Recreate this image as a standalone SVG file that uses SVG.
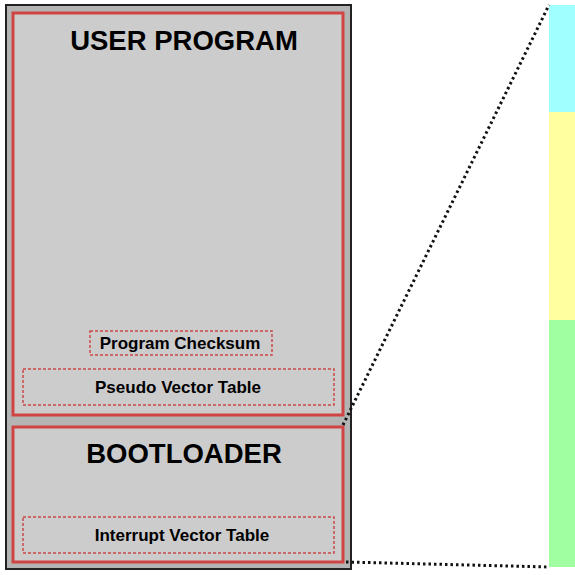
<svg xmlns="http://www.w3.org/2000/svg" width="575" height="575" viewBox="0 0 575 575">
<style>
.region{fill:#cccccc;stroke:#d04444;stroke-width:3}
.sub{fill:none;stroke:#c84848;stroke-width:1.5;stroke-dasharray:3,2}
.title{font-family:"Liberation Sans",Arial,sans-serif;font-weight:bold;font-size:27.5px;fill:#000;text-anchor:middle}
.lbl{font-family:"Liberation Sans",Arial,sans-serif;font-weight:bold;font-size:17px;fill:#000;text-anchor:middle}
.dots{fill:none;stroke:#111;stroke-width:3;stroke-dasharray:2.5,3}
</style>
<rect width="575" height="575" fill="#ffffff"/>
<g id="memory-bar">
<rect x="549" y="5" width="26" height="107" fill="#a0ffff"/>
<rect x="549" y="112" width="26" height="208" fill="#ffffa0"/>
<rect x="549" y="320" width="26" height="247" fill="#a0ffa0"/>
</g>
<g id="flash">
<rect x="6" y="5" width="345" height="564" fill="#b4b4b4" stroke="#222" stroke-width="2"/>
</g>
<g id="user-program">
<rect class="region" x="13" y="13" width="330" height="402"/>
<text class="title" x="184" y="50">USER PROGRAM</text>
</g>
<g id="program-checksum">
<rect class="sub" x="90" y="331" width="182" height="24"/>
<text class="lbl" x="180" y="349">Program Checksum</text>
</g>
<g id="pseudo-vector-table">
<rect class="sub" x="23" y="369" width="311" height="36"/>
<text class="lbl" x="178" y="393">Pseudo Vector Table</text>
</g>
<g id="bootloader">
<rect class="region" x="13" y="427" width="330" height="135"/>
<text class="title" x="184" y="463">BOOTLOADER</text>
</g>
<g id="interrupt-vector-table">
<rect class="sub" x="23" y="517" width="311" height="36"/>
<text class="lbl" x="182" y="541">Interrupt Vector Table</text>
</g>
<g id="connectors">
<line class="dots" x1="343" y1="425" x2="549" y2="5"/>
<line class="dots" x1="346" y1="562" x2="549" y2="567"/>
</g>
</svg>
